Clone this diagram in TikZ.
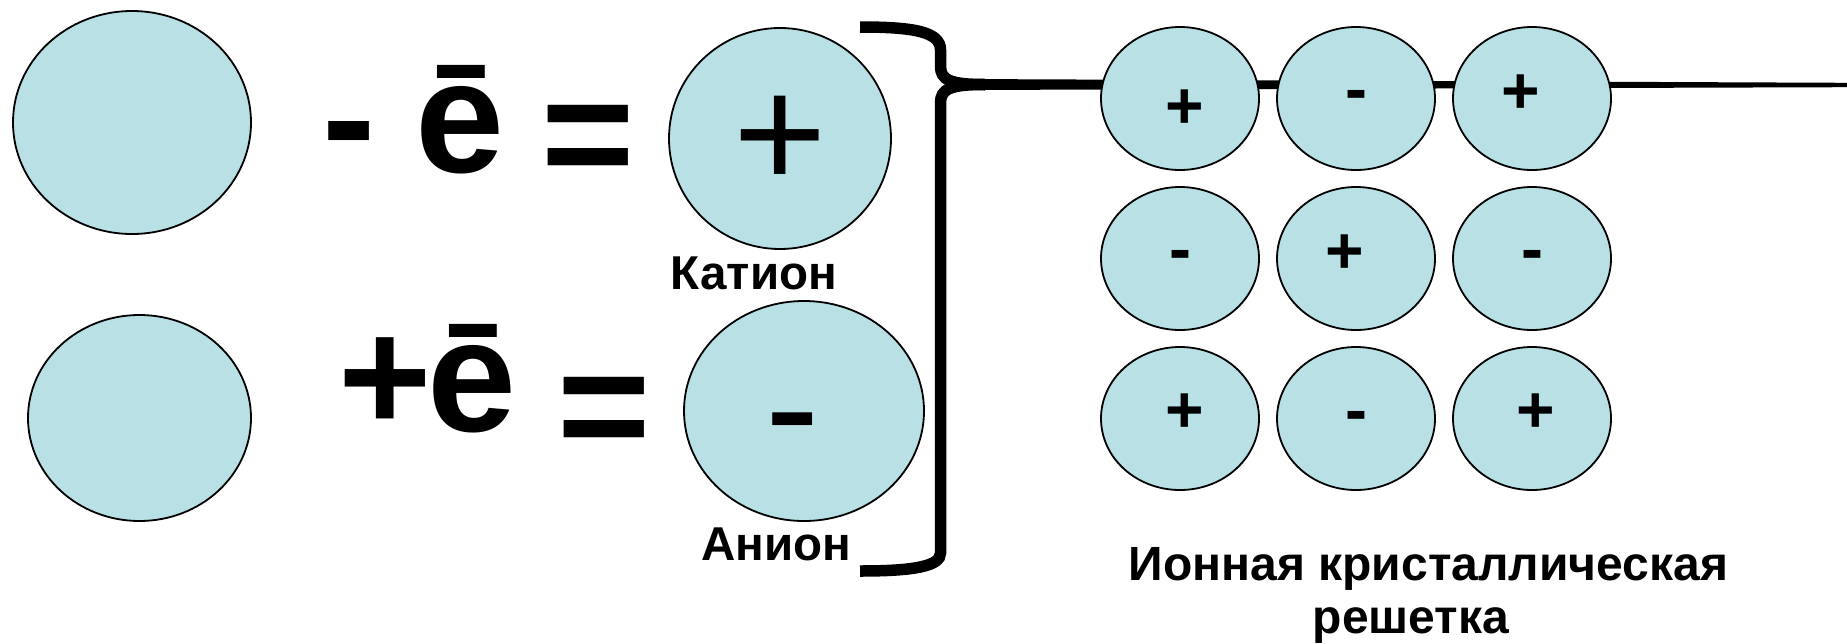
\documentclass[tikz,border=0pt]{standalone}
\usepackage{fontspec}
\setmainfont{Liberation Sans}
\usetikzlibrary{shapes.geometric}
\definecolor{ionfill}{RGB}{185,224,228}
\begin{document}
\begin{tikzpicture}[x=1pt,y=-1pt,
  ion/.style={ellipse, draw=black, line width=1.8pt, fill=ionfill, inner sep=0pt},
  bigion/.style={ion},
  cell/.style={ion, minimum width=158pt, minimum height=143pt},
  glyph/.style={inner sep=0pt, anchor=base},
  bigbold/.style={glyph, font=\fontsize{160}{160}\selectfont\bfseries},
  bigreg/.style={glyph, font=\fontsize{160}{160}\selectfont},
  label/.style={glyph, font=\fontsize{47.5}{47.5}\selectfont\bfseries},
  sign/.style={glyph, font=\fontsize{66}{66}\selectfont\bfseries},
  bracket/.style={line width=11.5pt}]
\useasboundingbox (0,0) rectangle (1847,643);
\fill[white] (0,0) rectangle (1847,643);

% atoms on the left
\node[bigion, minimum width=238pt, minimum height=223pt] (atom1) at (132,122.5) {};
\node[bigion, minimum width=223pt, minimum height=206pt] (atom2) at (139.5,418) {};

% equations
\node[bigbold] (minus1) at (349,172) {-};
\node[bigbold] (e1) at (459.5,172) {ē};
\node[bigbold] (eq1) at (588.5,188.5) {=};
\node[bigbold] (plus2) at (385,431.5) {+};
\node[bigbold] (e2) at (471.5,431) {ē};
\node[bigbold] (eq2) at (604,460) {=};

% cation and anion
\node[bigion, minimum width=222pt, minimum height=221pt] (cation) at (780,138.5) {};
\node[bigreg] (cplus) at (780.5,188.5) {+};
\node[label] (cat) at (754,289) {Катион};
\node[bigion, minimum width=240pt, minimum height=220pt] (anion) at (804,411) {};
\node[glyph, font=\fontsize{163}{163}\selectfont] (aminus) at (793,462.7) {-};
\node[label] (an) at (776.5,560) {Анион};

% bracket and line
\fill (960,79) -- (1847,82.8) -- (1847,87.2) -- (960,90) -- cycle;
\draw[bracket] (860,27) .. controls (915,27) and (940.5,32) .. (940.5,50) -- (940.5,66)
  .. controls (940.5,80) and (950,84.5) .. (985,84.5);
\draw[bracket] (985,84.5) .. controls (950,84.5) and (940.5,89) .. (940.5,103) -- (940.5,553)
  .. controls (940.5,566) and (915,571) .. (860,571);

% crystal lattice
\node[cell] (c11) at (1180,98.5) {};
\node[cell] (c12) at (1356,98.5) {};
\node[cell] (c13) at (1532,98.5) {};
\node[cell] (c21) at (1180,258.5) {};
\node[cell] (c22) at (1356,258.5) {};
\node[cell] (c23) at (1532,258.5) {};
\node[cell] (c31) at (1180,418.5) {};
\node[cell] (c32) at (1356,418.5) {};
\node[cell] (c33) at (1532,418.5) {};

\node[sign] (s11) at (1184.5,128.8) {+};
\node[sign] (s12) at (1356,111.3) {-};
\node[sign] (s13) at (1520.5,113.3) {+};
\node[sign] (s21) at (1180,271.8) {-};
\node[sign] (s22) at (1345,273.3) {+};
\node[sign] (s23) at (1532,271.8) {-};
\node[sign] (s31) at (1184.5,432.8) {+};
\node[sign] (s32) at (1356.4,432.1) {-};
\node[sign] (s33) at (1536,432.8) {+};

\node[glyph, font=\fontsize{48}{48}\selectfont\bfseries] (lat1) at (1428.5,580) {Ионная кристаллическая};
\node[glyph, font=\fontsize{48}{48}\selectfont\bfseries] (lat2) at (1411,633) {решетка};
\end{tikzpicture}
\end{document}
